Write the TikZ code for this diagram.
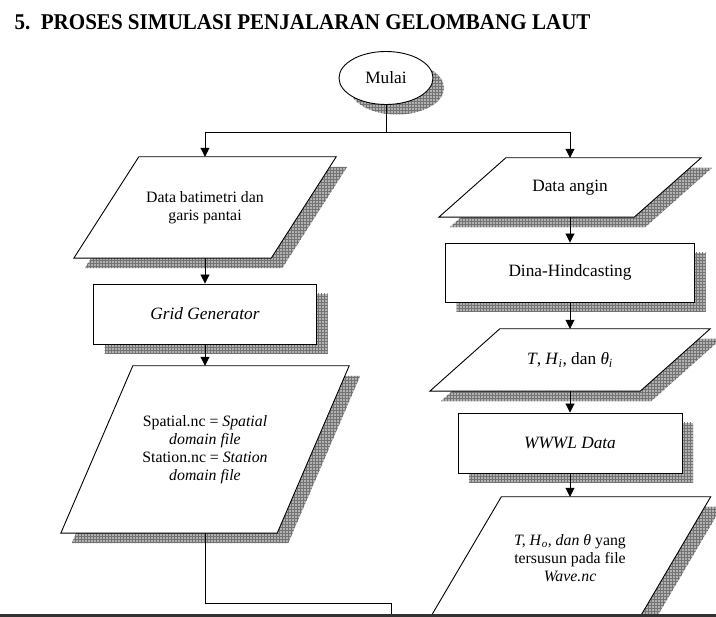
\documentclass[tikz,border=0pt]{standalone}
\usepackage{graphicx}
\usepackage{fontspec}
\setmainfont{Liberation Serif}
\usetikzlibrary{shapes.geometric,arrows.meta,patterns,backgrounds}

% jajaran genjang di belakang node teks: #1 nama node, #2 geser miring
\newcommand\jajar[2]{%
  \begin{scope}[on background layer]
    \path[io] ([xshift=#2/2]#1.north west) -- ([xshift=#2/2]#1.north east)
      -- ([xshift=-#2/2]#1.south east) -- ([xshift=-#2/2]#1.south west) -- cycle;
  \end{scope}}

\begin{document}
\begin{tikzpicture}[x=1pt,y=-1pt,
    shadowed/.style={preaction={fill=black!30,transform canvas={shift={(11pt,-10pt)}}},
      preaction={pattern=grid,pattern color=black!55,transform canvas={shift={(11pt,-10pt)}}}},
    box/.style={draw,fill=white,line width=0.9pt,shadowed,inner sep=1pt,font=\fontsize{17.3}{20}\selectfont},
    io/.style={draw,fill=white,line width=0.9pt,shadowed},
    txt/.style={inner sep=0pt,font=\fontsize{17.3}{20}\selectfont},
    small/.style={txt,font=\fontsize{15.8}{18}\selectfont,align=center},
    line/.style={line width=0.9pt},
    arr/.style={line,-{Triangle[width=9pt,length=9pt]}}]
  \useasboundingbox (0,0) rectangle (716,617);

  \node[anchor=base west] (judul) at (11,30)
    {\resizebox{576pt}{\height}{\fontsize{22.5}{27}\bfseries 5.\enspace PROSES SIMULASI PENJALARAN GELOMBANG LAUT}};

  \node[box,ellipse,minimum width=94pt,minimum height=53pt] (mulai) at (386,78) {Mulai};

  % kolom kiri
  \node[small,minimum width=197pt,minimum height=101pt] (bati) at (205,207.5) {Data batimetri dan\\garis pantai};
  \jajar{bati}{65}
  \node[box,minimum width=223pt,minimum height=60pt] (grid) at (205,314) {\textit{Grid Generator}};
  \node[small,minimum width=216pt,minimum height=167pt] (spasial) at (205,449.5)
        {Spatial.nc = \textit{Spatial}\\\textit{domain file}\\Station.nc = \textit{Station}\\\textit{domain file}};
  \jajar{spasial}{72}

  % kolom kanan
  \node[txt,minimum width=195pt,minimum height=59pt] (angin) at (570,187.5) {Data angin};
  \jajar{angin}{67}
  \node[box,minimum width=249pt,minimum height=59pt] (dina) at (570,272.5) {Dina-Hindcasting};
  \node[txt,minimum width=210pt,minimum height=62pt] (thi) at (570,360)
        {\textit{T}, \textit{H}\textsubscript{\textit{i}}, dan \textit{θ}\textsubscript{\textit{i}}};
  \jajar{thi}{70}
  \node[box,minimum width=224pt,minimum height=60pt] (wwwl) at (570,443) {\textit{WWWL Data}};
  \node[small,minimum width=209pt,minimum height=122pt] (wave) at (570,558)
        {\textit{T, H}\textsubscript{\textit{o}}\textit{, dan θ} yang\\tersusun pada file\\\textit{Wave.nc}};
  \jajar{wave}{72}

  \coordinate (pisah) at (386,132);
  \coordinate (belok) at (391,603);
  \coordinate (putus) at (391,617);

  \draw[line] (mulai) -- (pisah);
  \draw[arr] (pisah) -| (bati.north);
  \draw[arr] (pisah) -| (angin.north);
  \draw[arr] (bati) -- (grid);
  \draw[arr] (grid) -- (spasial);
  \draw[line] (spasial.south) |- (belok) -- (putus);
  \draw[arr] (angin) -- (dina);
  \draw[arr] (dina) -- (thi);
  \draw[arr] (thi) -- (wwwl);
  \draw[arr] (wwwl) -- (wave);

  \fill[black!80] (0,614) rectangle (716,617);
\end{tikzpicture}
\end{document}
